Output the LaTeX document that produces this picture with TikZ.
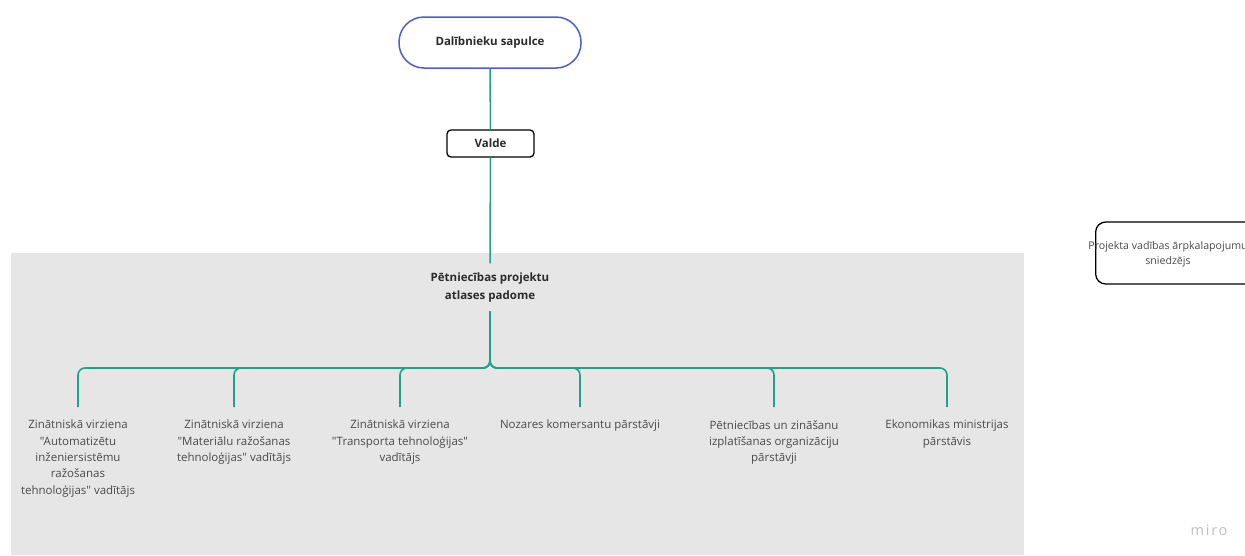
\documentclass[tikz,border=0pt]{standalone}
\usepackage{fontspec}
\setmainfont{Open Sans}[Ligatures=TeXOff]
\newfontfamily\mirofont{Open Sans}[LetterSpace=12]
\definecolor{graybg}{HTML}{E6E6E6}
\definecolor{conn}{HTML}{1FA386}
\definecolor{pillblue}{HTML}{4E5BDD}
\definecolor{txt}{HTML}{4A4A4A}
\definecolor{dark}{HTML}{2B2B2B}
\definecolor{mirogray}{HTML}{BEBEC6}
\tikzset{
  connector/.style={draw=conn, line width=1.6pt, rounded corners=7pt},
  pill/.style={draw=pillblue, line width=1.5pt, rounded corners=25pt, fill=white,
    minimum width=182pt, minimum height=51pt, font=\fontsize{11.5}{14}\selectfont\bfseries, text=dark},
  boardbox/.style={draw=black, line width=1.3pt, rounded corners=4pt, fill=white,
    minimum width=87pt, minimum height=27pt, font=\fontsize{11.5}{14}\selectfont\bfseries, text=dark},
  titlebox/.style={align=center, minimum height=48pt, inner sep=0pt,
    font=\fontsize{11.5}{18}\selectfont\bfseries, text=dark},
  child/.style={align=center, anchor=north, inner xsep=0pt, inner ysep=13pt,
    font=\fontsize{11.5}{16.3}\selectfont, text=txt},
  sidebox/.style={draw=black, line width=1.3pt, rounded corners=10pt,
    minimum width=200pt, minimum height=62pt, anchor=west},
}
\begin{document}
\begin{tikzpicture}[x=1pt,y=-1pt]
\useasboundingbox (0,0) rectangle (1245,555);
\fill[graybg] (11,253) rectangle (1024,555);

\node[pill] (top) at (490,42.5) {Dalībnieku sapulce};
\node[boardbox] (valde) at (490.5,143.5) {Valde};
\node[titlebox] (padome) at (490,287.5) {Pētniecības projektu\\atlases padome};

\node[child] (c1) at (78,407) {Zinātniskā virziena\\"Automatizētu\\inženiersistēmu\\ražošanas\\tehnoloģijas" vadītājs};
\node[child] (c2) at (234,407) {Zinātniskā virziena\\"Materiālu ražošanas\\tehnoloģijas" vadītājs};
\node[child] (c3) at (400,407) {Zinātniskā virziena\\"Transporta tehnoloģijas"\\vadītājs};
\node[child] (c4) at (580,407) {Nozares komersantu pārstāvji};
\node[child] (c5) at (774,407) {Pētniecības un zināšanu\\izplatīšanas organizāciju\\pārstāvji};
\node[child] (c6) at (947,407) {Ekonomikas ministrijas\\pārstāvis};

\coordinate (bus) at (490,368);

\draw[connector] (top) -- (valde);
\draw[connector] (valde) -- (padome);
\foreach \c in {c1,c2,c3,c4,c5,c6}{
  \draw[connector] (padome.south) -- (bus) -| (\c.north);
}

\node[sidebox] (side) at (1095,253) {};
\node[font=\fontsize{10.6}{15}\selectfont, text=txt, align=center, anchor=north] (sidetext) at (1168,237.5) {Projekta vadības ārpkalapojumu\\sniedzējs};

\node[font=\mirofont\fontsize{14.5}{17}\selectfont, text=mirogray] (miro) at (1209,530) {miro};
\end{tikzpicture}
\end{document}
